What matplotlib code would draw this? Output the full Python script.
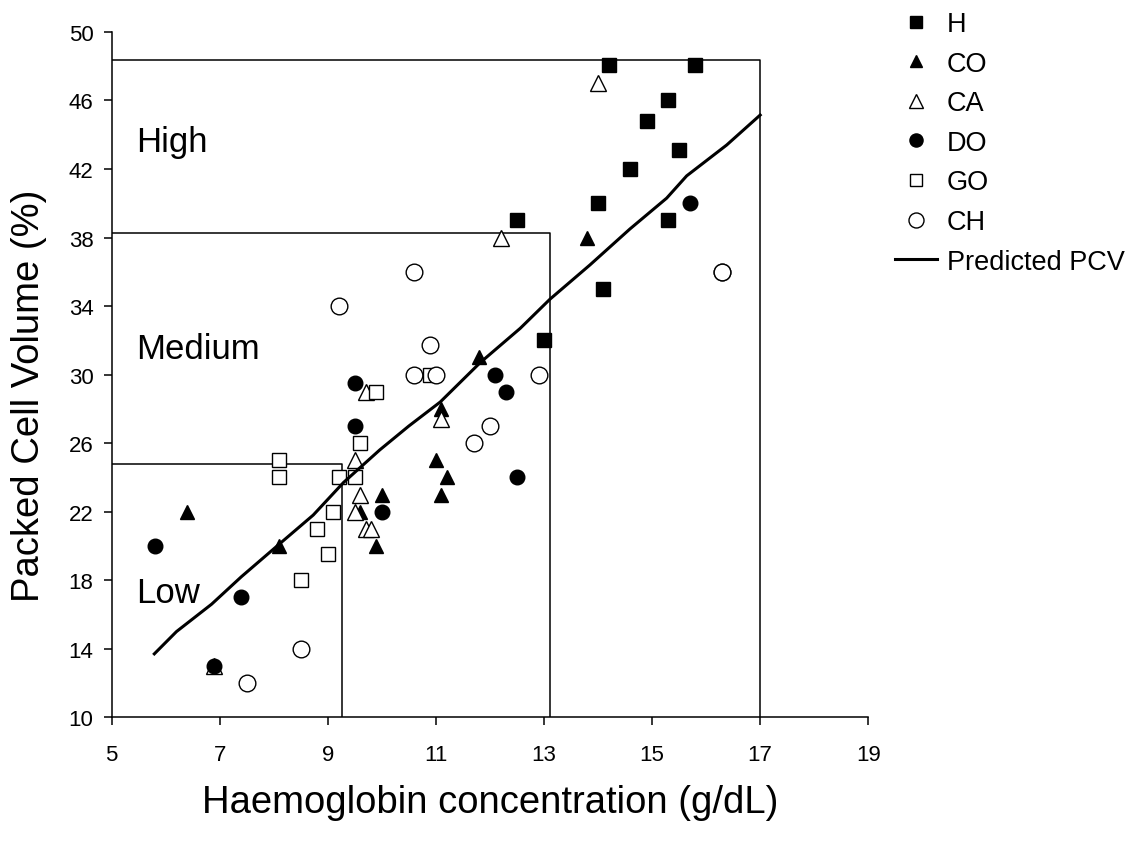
import matplotlib
matplotlib.use("Agg")
from matplotlib import pyplot as plt

plt.rcParams['font.family'] = ['Liberation Sans', 'DejaVu Sans']

# group data: haemoglobin (g/dL) vs packed cell volume (%)
h_hb = [14.2, 15.8, 15.3, 14.9, 15.5, 14.6, 14.0, 12.5, 15.3, 14.1, 13.0]
h_pcv = [48.1, 48.1, 46.0, 44.8, 43.1, 42.0, 40.0, 39.0, 39.0, 35.0, 32.0]

co_hb = [13.8, 11.8, 11.1, 11.0, 11.2, 11.1, 10.0, 9.6, 9.9, 8.1, 6.4]
co_pcv = [38.0, 31.0, 28.0, 25.0, 24.0, 23.0, 23.0, 22.0, 20.0, 20.0, 22.0]

ca_hb = [14.0, 12.2, 11.1, 9.7, 9.5, 9.6, 9.5, 9.7, 9.8, 6.9]
ca_pcv = [47.0, 38.0, 27.4, 29.0, 25.0, 23.0, 22.0, 21.0, 21.0, 13.0]

do_hb = [15.7, 12.1, 12.3, 12.5, 9.5, 9.5, 10.0, 5.8, 7.4, 6.9]
do_pcv = [40.0, 30.0, 29.0, 24.0, 29.5, 27.0, 22.0, 20.0, 17.0, 13.0]

go_hb = [8.1, 8.1, 9.2, 9.5, 9.1, 8.8, 9.0, 8.5, 9.6, 9.9, 10.9]
go_pcv = [25.0, 24.0, 24.0, 24.0, 22.0, 21.0, 19.5, 18.0, 26.0, 29.0, 30.0]

ch_hb = [7.5, 8.5, 9.2, 10.6, 10.9, 10.6, 11.0, 12.0, 11.7, 12.9, 16.3, 16.3]
ch_pcv = [12.0, 14.0, 34.0, 36.0, 31.7, 30.0, 30.0, 27.0, 26.0, 30.0, 36.0, 36.0]

# predicted PCV line
pred_hb = [5.79, 6.2, 6.85, 7.4, 8.1, 8.73, 9.29, 9.96, 10.5, 11.08, 11.82,
           12.56, 13.11, 13.85, 14.59, 15.27, 15.64, 16.38, 17.0]
pred_pcv = [13.7, 15.0, 16.6, 18.2, 20.1, 21.8, 23.7, 25.6, 27.0, 28.4, 30.7,
            32.7, 34.4, 36.4, 38.5, 40.3, 41.6, 43.4, 45.15]

# class limits (hb upper, pcv upper) for Low / Medium / High
box_hb = [9.27, 13.12, 17.0]
box_pcv = [24.76, 38.25, 48.37]
box_names = ['Low', 'Medium', 'High']
name_pos = [(5.45, 17.3), (5.45, 31.5), (5.45, 43.6)]

fig = plt.figure(figsize=(11.39, 8.45), dpi=100)
ax = fig.add_axes([0.098, 0.15, 0.6643, 0.811])

for bx, by in zip(box_hb, box_pcv):
    ax.plot([5, bx, bx], [by, by, 10], color='black', lw=1.1, zorder=1)

ms = dict(linestyle='none', markeredgecolor='black', markeredgewidth=1.0)
ax.plot(h_hb, h_pcv, marker='s', markersize=10, color='black', label='H', **ms)
ax.plot(co_hb, co_pcv, marker='^', markersize=10, color='black', label='CO', **ms)
ax.plot(ca_hb, ca_pcv, marker='^', markersize=11, markerfacecolor='white',
        label='CA', **ms)
ax.plot(do_hb, do_pcv, marker='o', markersize=10.5, color='black', label='DO', **ms)
ax.plot(go_hb, go_pcv, marker='s', markersize=10, markerfacecolor='white',
        label='GO', **ms)
ax.plot(ch_hb, ch_pcv, marker='o', markersize=12, markerfacecolor='white',
        label='CH', **ms)
ax.plot(pred_hb, pred_pcv, color='black', lw=2.2, label='Predicted PCV', zorder=4)

for name, (tx, ty) in zip(box_names, name_pos):
    ax.text(tx, ty, name, fontsize=25, ha='left', va='center')

ax.set_xlim(5, 19)
ax.set_ylim(10, 50)
ax.set_xticks(range(5, 20, 2))
ax.set_yticks(range(10, 51, 4))
ax.tick_params(direction='out', length=6, width=1.1, labelsize=16)
ax.tick_params(axis='x', pad=13)
ax.tick_params(axis='y', pad=7)
for s in ['top', 'right']:
    ax.spines[s].set_visible(False)
for s in ['left', 'bottom']:
    ax.spines[s].set_linewidth(1.1)

ax.set_xlabel('Haemoglobin concentration (g/dL)', fontsize=27.5)
ax.xaxis.set_label_coords(0.5, -0.097)
ax.set_ylabel('Packed Cell Volume (%)', fontsize=27.5)
ax.yaxis.set_label_coords(-0.086, 0.47)

fig.legend(loc='upper left', bbox_to_anchor=(0.7735, 1.0015), frameon=False,
           fontsize=19.5, handlelength=1.55, handletextpad=0.38,
           labelspacing=0.5, borderpad=0, markerscale=0.9)

fig.savefig('out.png', dpi=100)
